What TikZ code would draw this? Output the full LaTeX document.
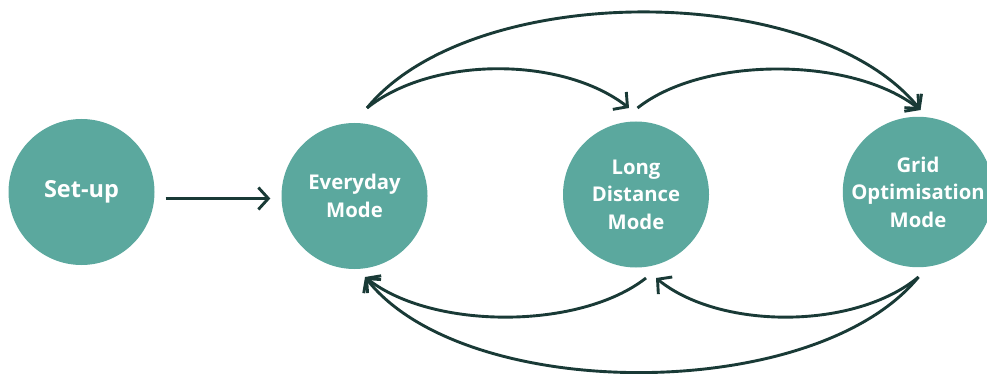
\documentclass[tikz,border=0pt]{standalone}
\usepackage{fontspec}
\setmainfont{Open Sans}
\usetikzlibrary{arrows.meta,calc}
\definecolor{tealfill}{RGB}{91,168,158}
\definecolor{arrowc}{RGB}{25,58,54}
\begin{document}
\begin{tikzpicture}[x=1pt,y=-1pt,
  mode/.style={circle,fill=tealfill,minimum size=146pt,inner sep=0pt,text=white,
    font=\fontsize{20.3}{27.5}\selectfont\bfseries,align=center},
  conn/.style={draw=arrowc,line width=2.9pt,-{Straight Barb[length=10pt,width=22pt]}}]
\useasboundingbox (0,0) rectangle (987,374);
\node[mode,font=\fontsize{23.5}{28}\selectfont\bfseries] (S) at (81.5,192) {Set-up};
\node[mode] (E) at (354.5,196) {Everyday\\Mode};
\node[mode] (L) at (636,194.5) {Long\\Distance\\Mode};
\node[mode] (G) at (918,192) {Grid\\Optimisation\\Mode};
% arc end points
\coordinate (Etop) at ($(E.center)+(12.5,-88)$);
\coordinate (Ltopin) at ($(L.center)+(-7,-86.5)$);
\coordinate (Ltopout) at ($(L.center)+(1.5,-86.5)$);
\coordinate (Gtop) at ($(G.center)+(2.5,-82)$);
\coordinate (Ebot) at ($(E.center)+(10.5,81)$);
\coordinate (Lbotout) at ($(L.center)+(10,83.5)$);
\coordinate (Lbotin) at ($(L.center)+(20,83.5)$);
\coordinate (Gbot) at ($(G.center)+(0.5,85)$);
% straight arrow
\draw[conn] ($(S.east)+(11,6.5)$) -- ($(E.west)+(-11,2.5)$);
% top arcs
\draw[conn] (Etop) .. controls (432,56) and (562,56) .. (Ltopin);
\draw[conn] (Ltopout) .. controls (703,56) and (852,56) .. (Gtop);
\draw[conn] (Etop) .. controls (472,-20) and (815,-20) .. (Gtop);
% bottom arcs
\draw[conn] (Lbotout) .. controls (580,330) and (432,330) .. (Ebot);
\draw[conn] (Gbot) .. controls (855,330) and (720,330) .. (Lbotin);
\draw[conn] (Gbot) .. controls (815,404) and (465,404) .. (Ebot);
\end{tikzpicture}
\end{document}
